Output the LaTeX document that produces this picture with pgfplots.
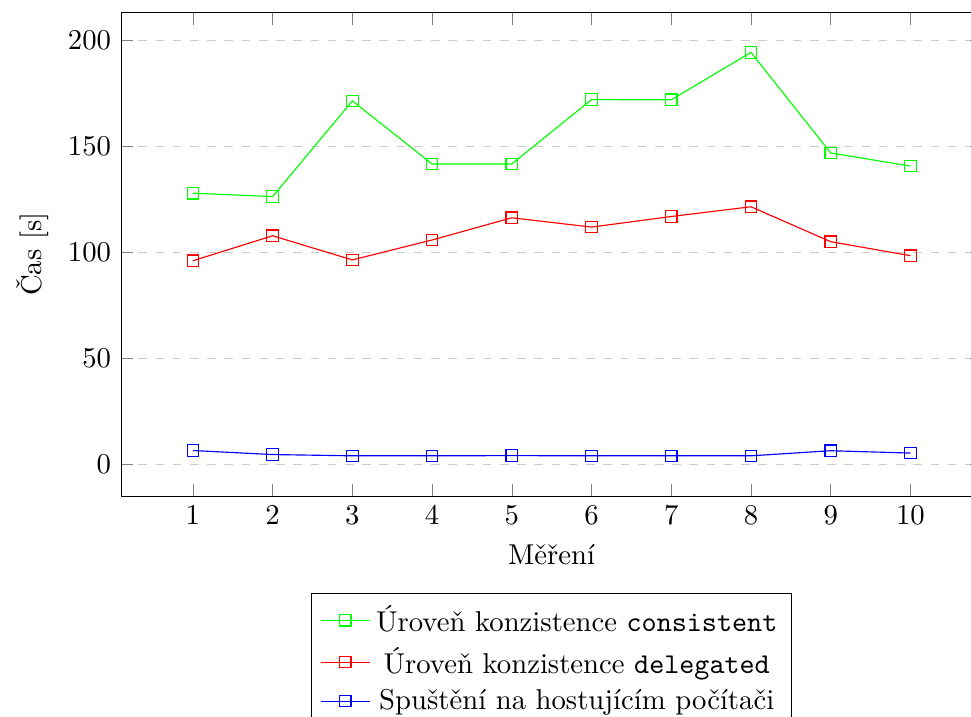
\documentclass[border=0pt]{standalone}
\usepackage{fontspec}
\usepackage{pgfplots}
\pgfplotsset{compat=1.18}
\begin{document}
\begin{tikzpicture}
\begin{axis}[
  name=ax,
  scale only axis,
  width=300pt, height=168.6pt,
  xmin=0.1, xmax=10.9,
  ymin=-15.2, ymax=213.3,
  xtick={1,2,3,4,5,6,7,8,9,10},
  ytick={0,50,100,150,200},
  ymajorgrids,
  major grid style={dashed, gray!40},
  xlabel={Měření},
  ylabel={Čas [s]},
  legend style={at={(0.5,-0.2)}, anchor=north, legend cell align=center},
]
\addplot[green, mark=square] coordinates {
(1,127.9) (2,126.3) (3,171.5) (4,141.7) (5,141.7) (6,172.1) (7,172.0) (8,194.4) (9,146.9) (10,140.7)};
\addlegendentry{Úroveň konzistence \texttt{consistent}}
\addplot[red, mark=square] coordinates {
(1,96.0) (2,107.8) (3,96.4) (4,105.8) (5,116.3) (6,111.9) (7,116.9) (8,121.5) (9,105.0) (10,98.4)};
\addlegendentry{Úroveň konzistence \texttt{delegated}}
\addplot[blue, mark=square] coordinates {
(1,6.4) (2,4.5) (3,3.9) (4,3.9) (5,4.0) (6,3.9) (7,3.9) (8,3.9) (9,6.3) (10,5.2)};
\addlegendentry{Spuštění na hostujícím počítači}
\end{axis}
\pgfresetboundingbox
\path ([shift={(-42.2pt,-76.7pt)}]ax.south west) rectangle ([shift={(296.1pt,4.3pt)}]ax.north west);
\end{tikzpicture}
\end{document}
